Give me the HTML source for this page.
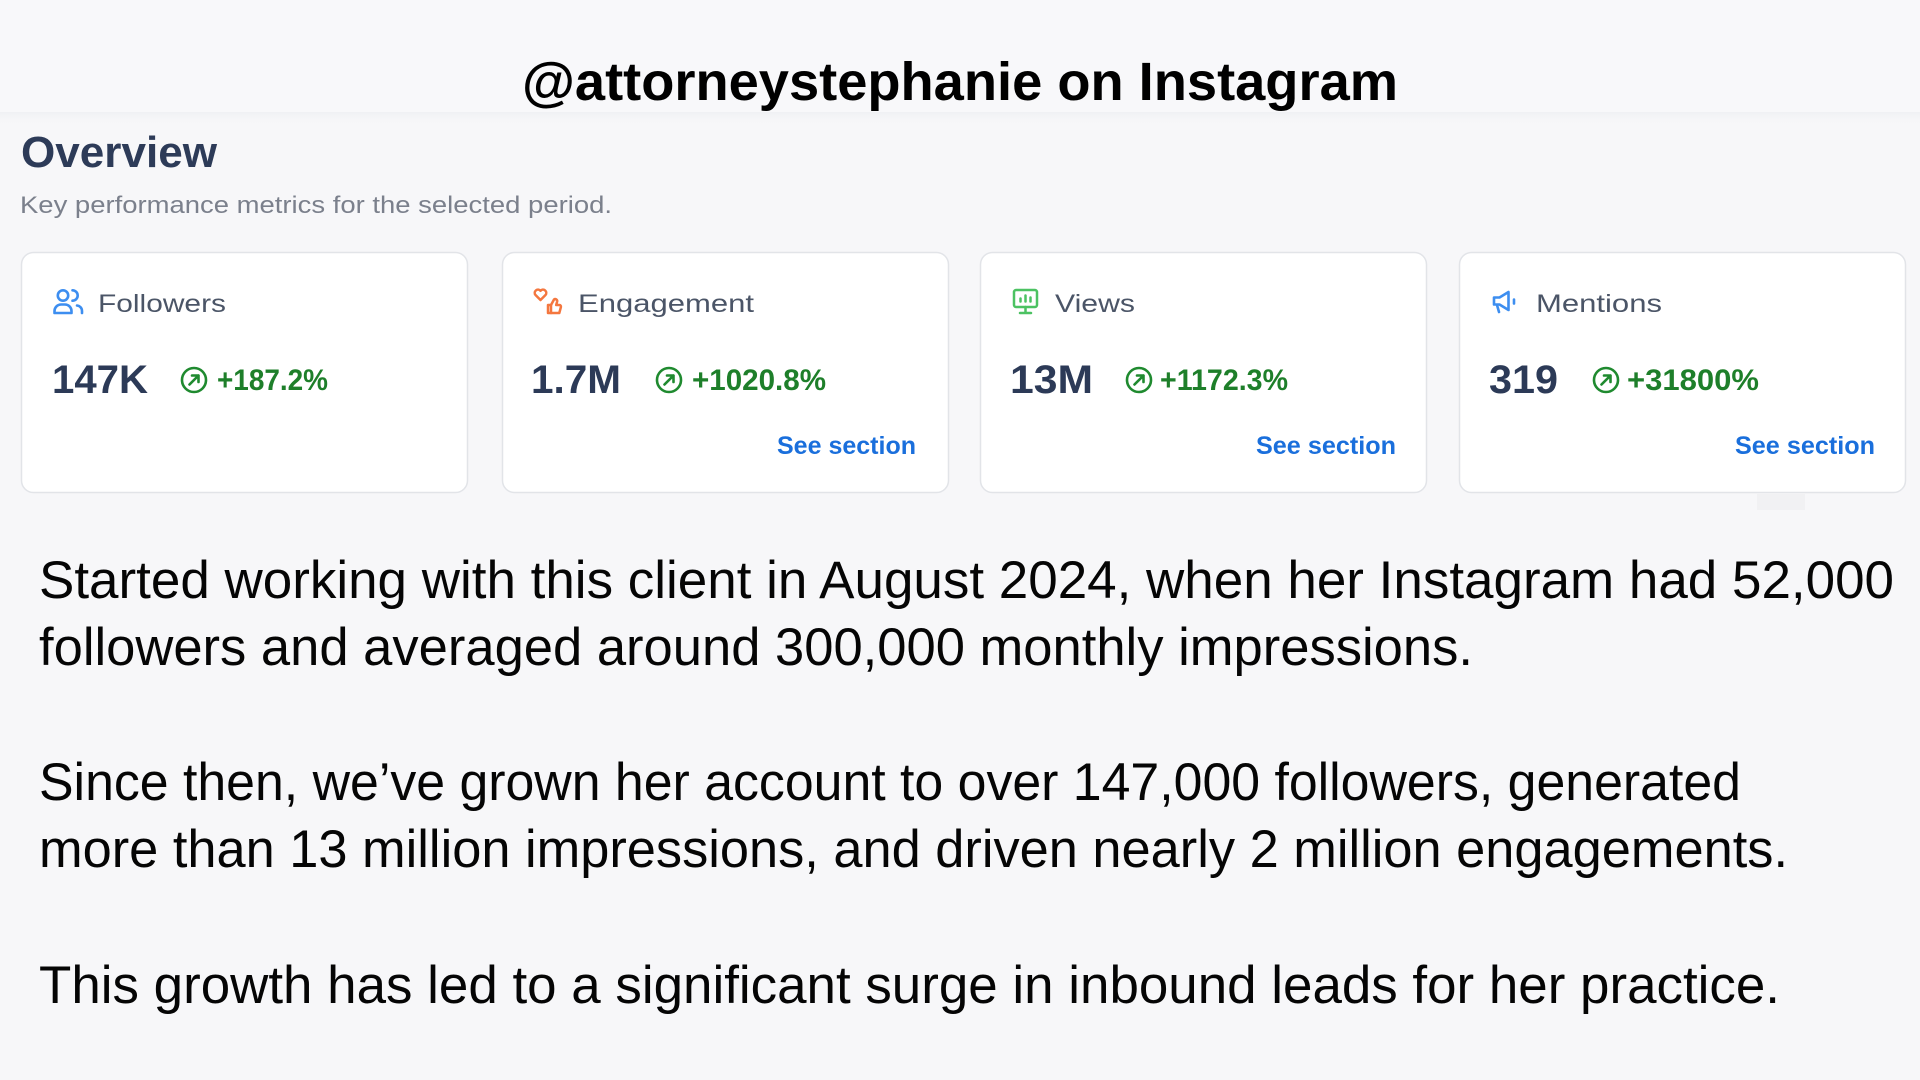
<!DOCTYPE html>
<html>
<head>
<meta charset="utf-8">
<style>
  html, body { margin:0; padding:0; background:#f7f7f9; }
  body { width:1920px; height:1080px; overflow:hidden; }
  svg { display:block; }
  .sans { font-family: "Liberation Sans", Arial, sans-serif; }
</style>
</head>
<body>
<svg width="1920" height="1080" viewBox="0 0 1920 1080" xmlns="http://www.w3.org/2000/svg" class="sans">
  <defs>
    <linearGradient id="band" x1="0" y1="0" x2="0" y2="1">
      <stop offset="0" stop-color="#eceef1" stop-opacity="0.7"/>
      <stop offset="1" stop-color="#f7f7f9" stop-opacity="0"/>
    </linearGradient>
  </defs>
  <rect x="0" y="0" width="1920" height="1080" fill="#f7f7f9"/>
  <rect x="0" y="0" width="1920" height="112" fill="#f8f8fa"/>
  <rect x="0" y="112" width="1920" height="14" fill="url(#band)"/>

  <!-- Title -->
  <text x="522" y="100" font-size="54" font-weight="bold" fill="#000" textLength="876" lengthAdjust="spacingAndGlyphs">@attorneystephanie on Instagram</text>

  <!-- Overview header -->
  <text x="21" y="167" font-size="44" font-weight="bold" fill="#2d3b58" textLength="196" lengthAdjust="spacingAndGlyphs">Overview</text>
  <text x="20" y="213" font-size="24" fill="#7b808c" textLength="592" lengthAdjust="spacingAndGlyphs">Key performance metrics for the selected period.</text>

  <!-- Cards -->
  <g stroke="#e2e4e8" stroke-width="1.5" fill="#ffffff">
    <rect x="21.5" y="252.5" width="446" height="240" rx="12"/>
    <rect x="502.5" y="252.5" width="446" height="240" rx="12"/>
    <rect x="980.5" y="252.5" width="446" height="240" rx="12"/>
    <rect x="1459.5" y="252.5" width="446" height="240" rx="12"/>
  </g>
  <rect x="1757" y="494" width="48" height="16" fill="#f1f1f3"/>

  <!-- Icons -->
  <!-- Followers -->
  <g fill="none" stroke="#3d8ef0" stroke-width="2.6" stroke-linecap="round" stroke-linejoin="round">
    <circle cx="63" cy="295.5" r="5.2"/>
    <path d="M54.5,313 v-2 a6.5,6.5 0 0 1 6.5,-6.5 h4 a6.5,6.5 0 0 1 6.5,6.5 v2 z"/>
    <path d="M72.5,290.3 a5.2,5.2 0 0 1 0,10.4"/>
    <path d="M77,305.5 a5.5,5.5 0 0 1 5,5.5 v2"/>
  </g>
  <!-- Engagement -->
  <g fill="none" stroke="#f4773f" stroke-width="2.5" stroke-linecap="round" stroke-linejoin="round">
    <path d="M540.5,300 l-5,-5 a3.2,3.2 0 0 1 5,-4.2 a3.2,3.2 0 0 1 5,4.2 z"/>
    <path d="M548,313 v-8 h3 l3,-5.5 a2,2 0 0 1 3.2,1.8 l-1,3.7 h3.2 a1.6,1.6 0 0 1 1.5,2 l-1.6,6 z"/>
    <path d="M551,305 v8"/>
  </g>
  <!-- Views -->
  <g fill="none" stroke="#4cc262" stroke-width="2.5" stroke-linecap="round" stroke-linejoin="round">
    <rect x="1014" y="290" width="23" height="17" rx="2"/>
    <path d="M1025.5,307 v5.5 M1020,313 h11"/>
    <path d="M1020.5,301.5 v-3 M1025.5,301.5 v-6 M1030.5,301.5 v-4"/>
  </g>
  <!-- Mentions -->
  <g fill="none" stroke="#3d8ef0" stroke-width="2.6" stroke-linecap="round" stroke-linejoin="round">
    <path d="M1494,297.5 h5.5 l9,-5.5 v18 l-9,-5.5 h-5.5 z"/>
    <path d="M1497,305 l2,7"/>
    <path d="M1514,299.5 v4"/>
  </g>

  <!-- Labels -->
  <g font-size="25" fill="#4b5567">
    <text x="98" y="312" textLength="128" lengthAdjust="spacingAndGlyphs">Followers</text>
    <text x="578" y="312" textLength="176" lengthAdjust="spacingAndGlyphs">Engagement</text>
    <text x="1055" y="312" textLength="80" lengthAdjust="spacingAndGlyphs">Views</text>
    <text x="1536" y="312" textLength="126" lengthAdjust="spacingAndGlyphs">Mentions</text>
  </g>

  <!-- Values -->
  <g font-size="40" font-weight="bold" fill="#2c3a57">
    <text x="52" y="393" textLength="96" lengthAdjust="spacingAndGlyphs">147K</text>
    <text x="531" y="393" textLength="90" lengthAdjust="spacingAndGlyphs">1.7M</text>
    <text x="1010" y="393" textLength="83" lengthAdjust="spacingAndGlyphs">13M</text>
    <text x="1489" y="393" textLength="69" lengthAdjust="spacingAndGlyphs">319</text>
  </g>

  <!-- Growth badges -->
  <g fill="none" stroke="#1f8a2f" stroke-width="2.6" stroke-linecap="round" stroke-linejoin="round">
    <circle cx="194" cy="380" r="12"/>
    <path d="M189.5,384.5 L198.5,375.5 M192,375.5 H198.5 V382"/>
    <circle cx="669" cy="380" r="12"/>
    <path d="M664.5,384.5 L673.5,375.5 M667,375.5 H673.5 V382"/>
    <circle cx="1139" cy="380" r="12"/>
    <path d="M1134.5,384.5 L1143.5,375.5 M1137,375.5 H1143.5 V382"/>
    <circle cx="1606" cy="380" r="12"/>
    <path d="M1601.5,384.5 L1610.5,375.5 M1604,375.5 H1610.5 V382"/>
  </g>
  <g font-size="30" font-weight="bold" fill="#1e7f2a">
    <text x="217" y="390" textLength="111" lengthAdjust="spacingAndGlyphs">+187.2%</text>
    <text x="692" y="390" textLength="134" lengthAdjust="spacingAndGlyphs">+1020.8%</text>
    <text x="1160" y="390" textLength="128" lengthAdjust="spacingAndGlyphs">+1172.3%</text>
    <text x="1627" y="390" textLength="132" lengthAdjust="spacingAndGlyphs">+31800%</text>
  </g>

  <!-- See section links -->
  <g font-size="25" font-weight="bold" fill="#1a6fdc">
    <text x="777" y="454" textLength="139" lengthAdjust="spacingAndGlyphs">See section</text>
    <text x="1256" y="454" textLength="140" lengthAdjust="spacingAndGlyphs">See section</text>
    <text x="1735" y="454" textLength="140" lengthAdjust="spacingAndGlyphs">See section</text>
  </g>

  <!-- Body text -->
  <g font-size="53" fill="#050505">
    <text x="39" y="598" textLength="1855" lengthAdjust="spacingAndGlyphs">Started working with this client in August 2024, when her Instagram had 52,000</text>
    <text x="39" y="665" textLength="1434" lengthAdjust="spacingAndGlyphs">followers and averaged around 300,000 monthly impressions.</text>
    <text x="39" y="800" textLength="1702" lengthAdjust="spacingAndGlyphs">Since then, we’ve grown her account to over 147,000 followers, generated</text>
    <text x="39" y="867" textLength="1749" lengthAdjust="spacingAndGlyphs">more than 13 million impressions, and driven nearly 2 million engagements.</text>
    <text x="39" y="1003" textLength="1741" lengthAdjust="spacingAndGlyphs">This growth has led to a significant surge in inbound leads for her practice.</text>
  </g>
</svg>
</body>
</html>
